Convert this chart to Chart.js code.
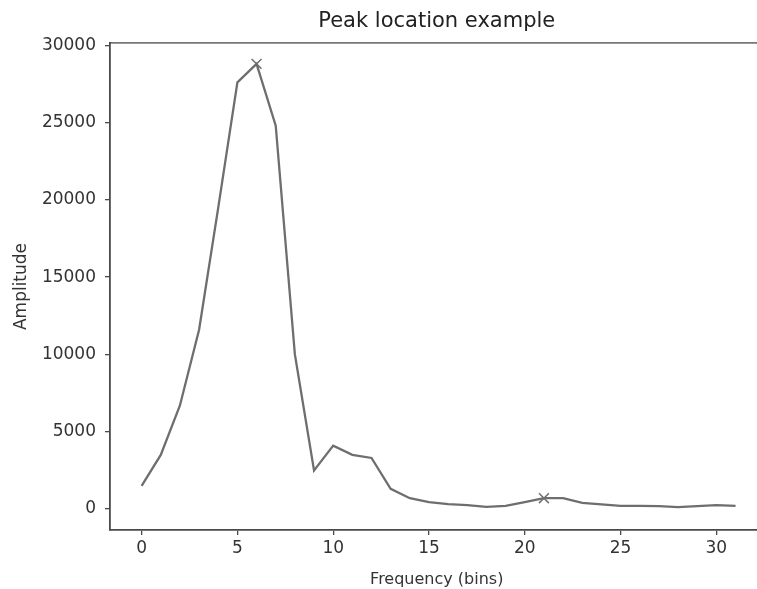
<!DOCTYPE html>
<html>
<head>
<meta charset="utf-8">
<script src="https://cdn.jsdelivr.net/npm/chart.js@4/dist/chart.umd.min.js"></script>
<style>
html,body{margin:0;padding:0;background:#fff;overflow:hidden;}
canvas{display:block;}
</style>
</head>
<body>
<canvas id="c" width="772" height="589" style="width:772px;height:589px"></canvas>
<script>
const bins = [0,1,2,3,4,5,6,7,8,9,10,11,12,13,14,15,16,17,18,19,20,21,22,23,24,25,26,27,28,29,30,31];
const amplitude = [1500,3500,6700,11600,19500,27600,28800,24800,10000,2500,4100,3500,3300,1300,700,450,320,250,130,200,450,700,700,400,300,200,200,180,120,180,250,200];
const peakBins = [6,21];
const xTicks = [0,5,10,15,20,25,30];
const yTicks = [0,5000,10000,15000,20000,25000,30000];
const titleText = 'Peak location example';
const xTitle = 'Frequency (bins)';
const yTitle = 'Amplitude';

const lineData = bins.map((b,i)=>({x:b,y:amplitude[i]}));
const peakData = peakBins.map(b=>({x:b,y:amplitude[bins.indexOf(b)]}));

const FONT = 'DejaVu Sans';
const TXT = '#333333';
const AX = '#4a4a4a';

new Chart(document.getElementById('c'), {
  type: 'line',
  data: {
    datasets: [
      {data: lineData, borderColor:'#6e6e6e', borderWidth:2.3, pointRadius:0, fill:false, tension:0},
      {data: peakData, showLine:false, pointStyle:'crossRot', pointRadius:7, borderColor:'#707070', borderWidth:1.5, backgroundColor:'#707070'}
    ]
  },
  options: {
    responsive:false, animation:false, devicePixelRatio:1,
    layout:{padding:{left:0,right:0,top:0,bottom:0}},
    plugins:{
      legend:{display:false}, tooltip:{enabled:false},
      title:{display:true, text:titleText, fullSize:false, color:'#222', font:{family:FONT,size:21,weight:'normal',lineHeight:1.2}, padding:{top:9,bottom:8.8}}
    },
    scales:{
      x:{type:'linear', position:'bottom', min:-1.65, max:32.46,
        afterBuildTicks:(s)=>{s.ticks = xTicks.map(v=>({value:v}));},
        afterFit:(s)=>{s.height = 59;},
        grid:{display:true, drawOnChartArea:false, drawTicks:true, tickLength:5, color:AX, lineWidth:1.3},
        border:{display:true, color:AX, width:1.8},
        ticks:{color:TXT, font:{family:FONT,size:17}, padding:3, maxRotation:0, callback:(v)=>String(v)},
        title:{display:true, text:xTitle, color:TXT, font:{family:FONT,size:16}, padding:{top:1,bottom:0}}
      },
      xTop:{type:'linear', position:'top', min:-1.65, max:32.46,
        afterFit:(s)=>{s.height = 0;},
        grid:{display:false}, ticks:{display:false},
        border:{display:true, color:'#777777', width:1.8}
      },
      y:{type:'linear', min:-1360, max:30150,
        afterBuildTicks:(s)=>{s.ticks = yTicks.map(v=>({value:v}));},
        afterFit:(s)=>{s.width = 110;},
        grid:{display:true, drawOnChartArea:false, drawTicks:true, tickLength:5, color:AX, lineWidth:1.3},
        border:{display:true, color:AX, width:1.8},
        ticks:{color:TXT, font:{family:FONT,size:17}, padding:9, callback:(v)=>String(v)},
        title:{display:true, text:yTitle, color:TXT, font:{family:FONT,size:17}, padding:{top:11,bottom:0}}
      }
    }
  }
});
</script>
</body>
</html>
